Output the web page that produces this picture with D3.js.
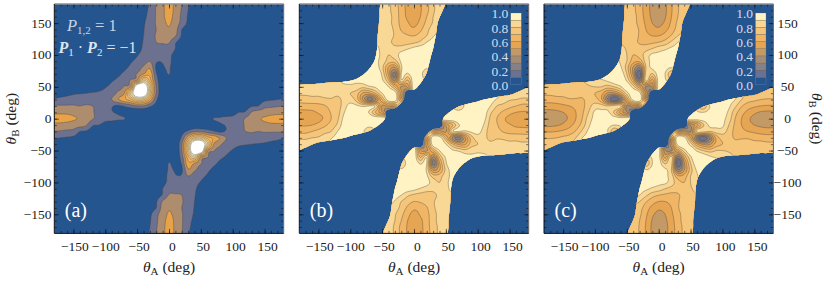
<!DOCTYPE html>
<html>
<head>
<meta charset="utf-8">
<script src="https://cdn.jsdelivr.net/npm/d3@7"></script>
<style>
  body { margin: 0; background: white; }
  text { font-family: "Liberation Serif", serif; }
</style>
</head>
<body>
<div class="canvas"></div>
<script>
// each list holds one wedge of the plane, thetaB >= |thetaA|, in steps of 10 deg.
// row r is thetaB = 10*r, its entries run thetaA = -10*r .. 10*r. values in percent.
// the rest of the plane follows from f(a,b) = f(b,a) = f(-a,-b), as seen in the picture
const rowsA = [
  [1],
  [2,1,1],
  [6,2,1,1,1],
  [37,12,3,1,1,1,1],
  [118,62,19,3,1,1,1,1,1],
  [118,118,66,19,3,2,1,1,1,1,1],
  [21,32,72,46,15,4,6,2,1,1,1,0,0],
  [12,15,21,30,37,11,6,10.5,3,1,0,0,0,0,0],
  [4,8,12,16,22,29,8,9,11,4,1,0,0,0,0,0,0],
  [1,2,4,9,12,15,20,11,10.5,12,5,1,0,0,0,0,0,0,0],
  [0,0,0,1,6,9.5,12,14,14,13,12,7,3,0,0,0,0,0,0,0,0],
  [0,0,0,0,0,4,7.5,11,14,16,16,15,10,4,0,0,0,0,0,0,0,0,0],
  [0,0,0,0,0,0,2,6.5,10.5,14,20,21,21,11,5,1,0,0,0,0,0,0,0,0,0],
  [0,0,0,0,0,0,0,2,6,10,15,21,24,25,21,9,4,1,0,0,0,0,0,0,0,0,0],
  [0,0,0,0,0,0,0,0,1,5,9.5,15,20,26,29,24,10,5,2,0,0,0,0,0,0,0,0,0,0],
  [0,0,0,0,0,0,0,0,0,1,4.5,9,14,21,27,31,25,17,8,3,0,0,0,0,0,0,0,0,0,0,0],
  [0,0,0,0,0,0,0,0,0,0,1,4,8,13,21,28,33,26,18,9,3,0,0,0,0,0,0,0,0,0,0,0,0],
  [0,0,0,0,0,0,0,0,0,0,0,1,3.5,7.5,12,21,28,34,27,19,10,4,0,0,0,0,0,0,0,0,0,0,0,0,0],
  [0,0,0,0,0,0,0,0,0,0,0,0,1,3.5,7,11,21,28,34,27,20,11,5,0,0,0,0,0,0,0,0,0,0,0,0,0,0]
];

const rowsB = [
  [100],
  [100,100,100],
  [100,100,100,100,100],
  [100,55,35,100,100,100,100],
  [100,97,55,30,100,100,100,100,100],
  [100,90,70,48,52,100,100,100,100,100,100],
  [100,92,72,38,88,68,100,97,90,90,100,100,100],
  [100,100,88,58,25,90,88,100,95,80,90,100,100,100,100],
  [100,100,95,83,58,48,88,98,100,98,92,100,100,100,100,100,100],
  [100,100,100,92,87,75,75,92,98,100,100,100,100,100,100,100,100,100,100],
  [100,100,100,100,93,88,80,85,94,98,100,100,100,100,100,100,100,100,100,100,100],
  [95,95,95,95,95,92,88,84,83,85,89,93,96,98,98,100,100,100,100,100,100,100,100],
  [92,92,92,92,92,92,89,88,83,77,75,76,78,82,90,95,97,100,100,100,100,100,100,100,100],
  [90,90,90,90,90,90,90,89,88,84,79,74,71,70,74,80,89,93,95,98,98,98,98,98,98,98,98],
  [90,90,90,90,90,90,90,90,88,87,84,78,69,64,62,68,77,85,90,93,96,96,96,96,96,96,96,96,96],
  [90,90,90,90,90,90,90,90,90,87,86,83,76,67,61,57,63,73,81,87,90,94,94,94,94,94,94,94,94,94,94],
  [90,90,90,90,90,90,90,90,90,90,86,85,83,76,66,58,55,60,70,80,86,89,92,92,92,92,92,92,92,92,92,92,92],
  [90,90,90,90,90,90,90,90,90,90,90,85,85,82,75,66,57,54,59,67,78,85,88,90,90,90,90,90,90,90,90,90,90,90,90],
  [90,90,90,90,90,90,90,90,90,90,90,90,85,85,82,75,65,57,54,59,67,78,85,88,90,90,90,90,90,90,90,90,90,90,90,90,90]
];

const rowsC = [
  [100],
  [100,100,100],
  [100,100,100,100,100],
  [100,50,25,100,100,100,100],
  [100,95,48,25,100,100,100,100,100],
  [100,85,62,38,42,98,100,100,100,100,100],
  [100,88,62,25,85,55,96,92,82,90,100,100,100],
  [100,97,80,48,10,85,78,96,90,72,88,100,100,100,100],
  [100,100,92,75,48,30,80,92,96,94,90,100,100,100,100,100,100],
  [100,100,100,88,80,64,62,85,92,96,97,98,100,100,100,100,100,100,100],
  [95,95,95,95,87,80,70,74,85,92,93,95,96,97,100,100,100,100,100,100,100],
  [90,90,90,90,90,83,79,74,73,76,80,85,88,92,94,97,97,97,97,97,97,97,97],
  [85,85,85,85,85,85,80,78,73,69,67,68,70,74,82,90,94,97,97,97,97,97,97,97,97],
  [82,82,82,82,82,82,82,80,78,74,69,63,60,60,64,71,80,85,90,92,92,92,92,92,92,92,92],
  [80,80,80,80,80,80,80,80,78,77,74,69,60,54,52,57,65,74,80,85,90,90,90,90,90,90,90,90,90],
  [80,80,80,80,80,80,80,80,80,77,76,73,67,58,50,47,52,62,72,78,82,88,88,88,88,88,88,88,88,88,88],
  [80,80,80,80,80,80,80,80,80,80,76,75,73,66,56,48,44,49,60,70,77,80,85,85,85,85,85,85,85,85,85,85,85],
  [80,80,80,80,80,80,80,80,80,80,80,75,75,72,65,55,47,43,48,59,69,76,79,82,82,82,82,82,82,82,82,82,82,82,82],
  [80,80,80,80,80,80,80,80,80,80,80,80,75,75,72,65,55,47,43,48,59,69,76,79,80,80,80,80,80,80,80,80,80,80,80,80,80]
];

// signed distance (deg) to the edge of the coloured region in panels b and c
const rowsSupport = [
  [-25],
  [-18,-22,-20],
  [-4,-12,-20,-20,-17],
  [10,3,-6,-16,-22,-25,-28],
  [26,16,6,-4,-6,-12,-18,-24,-30],
  [30,22,14,6,5,4,-4,-12,-20,-26,-30],
  [30,25,22,18,14,11,10,3,-7,-15,-22,-28,-30],
  [5,12,20,28,28,25,20,14,9,-1,-11,-21,-30,-30,-30],
  [-8,-1,7,16,26,30,30,26,20,12,2,-8,-18,-28,-30,-30,-30],
  [-22,-14,-6,2,11,22,30,30,28,24,14.5,4.5,-5.5,-15.5,-25,-30,-30,-30,-30],
  [-30,-26,-18,-9,-0.5,9,19,29,30,30,27,17,7,-3,-13,-23,-30,-30,-30,-30,-30],
  [-30,-30,-28,-20,-11,-2,8,18,28,30,30,30,20,10,0,-10,-20,-30,-30,-30,-30,-30,-30],
  [-30,-30,-30,-30,-22,-12,-2.5,7,17,27,30,30,30,22,12,2,-8,-18,-28,-30,-30,-30,-30,-30,-30],
  [-30,-30,-30,-30,-30,-23,-13,-3,7,17,27,30,30,30,24,14,4,-6,-16,-26,-30,-30,-30,-30,-30,-30,-30],
  [-30,-30,-30,-30,-30,-30,-24,-14,-4,6,16,26,30,30,30,25,15,5.5,-4.5,-14.5,-24.5,-30,-30,-30,-30,-30,-30,-30,-30],
  [-30,-30,-30,-30,-30,-30,-30,-25,-15,-5,5,15,25,30,30,30,27,17,7,-3,-13,-23,-30,-30,-30,-30,-30,-30,-30,-30,-30],
  [-30,-30,-30,-30,-30,-30,-30,-30,-26,-16,-6,4,14,24,30,30,30,30,20,10,0.5,-9,-19,-29,-30,-30,-30,-30,-30,-30,-30,-30,-30],
  [-30,-30,-30,-30,-30,-30,-30,-30,-30,-26,-16,-6,4,14,24,30,30,30,30,25,15,5,-5,-15,-25,-30,-30,-30,-30,-30,-30,-30,-30,-30,-30],
  [-30,-30,-30,-30,-30,-30,-30,-30,-30,-30,-27,-17,-7,3,13,23,30,30,30,30,29,19,9,-1,-11,-21,-30,-30,-30,-30,-30,-30,-30,-30,-30,-30,-30]
];

// band limits and colours
const levels = [10, 20, 30, 40, 50, 60, 70, 80, 90];
const bandColors = ['#3f6299', '#6b7192', '#868087', '#a28c76', '#c39a66', '#e6a552', '#f0b565', '#f5c67a', '#f9d794', '#fff3c4'];
const panelAColors = ['#24558e', '#6c7190', '#ad8d6d', '#e8a349', '#f0b565', '#f5c67a', '#f9d794', '#fde6ae', '#fff3c8', '#ffffff'];
const blue = '#24558e';

const majorTicks = [-150, -100, -50, 0, 50, 100, 150];
const minorTicks = d3.range(-170, 180, 10);
const barTicks = [0, 0.2, 0.4, 0.6, 0.8, 1];
const xLabelShift = [1.5, 0.5, 2, 3.3, 2.5, 3, 3]; // the labels sit a bit right of their ticks

const dims = { width: 830, height: 281 };
const plotSize = 229.4;
const plotTop = 4;
const panels = [
  { left: 54.3, rows: rowsA, colors: panelAColors, tag: '(a)', yLabels: 'left', clipped: false },
  { left: 299.3, rows: rowsB, colors: bandColors, tag: '(b)', bar: true, clipped: true },
  { left: 544, rows: rowsC, colors: bandColors, tag: '(c)', bar: true, yLabels: 'right', clipped: true }
];

const svg = d3.select('.canvas').append('svg')
  .attr('width', dims.width)
  .attr('height', dims.height);

const n = 37;
const k = 4; // upsampling, so the contours come out round

// fill the whole plane from the wedge
const expand = rows => {
  const grid = [];
  for (let j = 0; j < n; j++) {
    for (let i = 0; i < n; i++) {
      let p = i - 18, q = j - 18;
      if (Math.abs(p) > Math.abs(q)) [p, q] = [q, p];
      if (q < 0) { p = -p; q = -q; }
      grid.push(rows[q][p + q]);
    }
  }
  return grid;
};

const cubic = (a, b, c, d, t) =>
  b + 0.5 * t * (c - a + t * (2 * a - 5 * b + 4 * c - d + t * (3 * (b - c) + d - a)));

const upsample = grid => {
  const m = (n - 1) * k + 1;
  const at = (i, j) => grid[Math.max(0, Math.min(n - 1, j)) * n + Math.max(0, Math.min(n - 1, i))];
  const out = new Float64Array(m * m);
  for (let y = 0; y < m; y++) {
    const j = Math.floor(y / k), v = y / k - j;
    for (let x = 0; x < m; x++) {
      const i = Math.floor(x / k), u = x / k - i;
      const col = [-1, 0, 1, 2].map(d =>
        cubic(at(i - 1, j + d), at(i, j + d), at(i + 1, j + d), at(i + 2, j + d), u));
      out[y * m + x] = cubic(col[0], col[1], col[2], col[3], v);
    }
  }
  return { values: out, m };
};

const angle = d3.scaleLinear().domain([0, (n - 1) * k]).range([-180, 180]);
const supportFine = upsample(expand(rowsSupport));

panels.forEach((p, idx) => {
  const x = d3.scaleLinear().domain([-180, 180]).range([p.left, p.left + plotSize]);
  const y = d3.scaleLinear().domain([-180, 180]).range([plotTop + plotSize, plotTop]);

  const path = d3.geoPath(d3.geoTransform({
    point(px, py) { this.stream.point(x(angle(px - 0.5)), y(angle(py - 0.5))); }
  }));

  const fine = upsample(expand(p.rows));
  const contours = d3.contours().size([fine.m, fine.m]).thresholds(levels)(fine.values);

  svg.append('clipPath').attr('id', `plot${idx}`)
    .append('rect')
    .attr('x', p.left).attr('y', plotTop)
    .attr('width', plotSize).attr('height', plotSize);

  const graph = svg.append('g').attr('clip-path', `url(#plot${idx})`);

  graph.append('rect')
    .attr('x', p.left).attr('y', plotTop)
    .attr('width', plotSize).attr('height', plotSize)
    .attr('fill', blue);

  let inner = graph.append('g');
  if (p.clipped) {
    const edge = d3.contours().size([supportFine.m, supportFine.m]).thresholds([0])(supportFine.values);
    svg.append('clipPath').attr('id', `support${idx}`)
      .append('path').attr('d', path(edge[0]));
    inner = graph.append('g').attr('clip-path', `url(#support${idx})`);
    inner.append('rect')
      .attr('x', p.left).attr('y', plotTop)
      .attr('width', plotSize).attr('height', plotSize)
      .attr('fill', p.colors[0]);
  }

  inner.selectAll('path')
    .data(contours)
    .enter()
    .append('path')
      .attr('d', path)
      .attr('fill', (d, i) => p.colors[i + 1])
      .attr('stroke', '#4a4238')
      .attr('stroke-opacity', 0.75)
      .attr('stroke-width', 0.5);

  // ticks on all four sides, pointing in
  const addTicks = (axis, tx, ty) => {
    [[minorTicks, 2.5], [majorTicks, 4.5]].forEach(([values, size]) => {
      const g = svg.append('g')
        .attr('transform', `translate(${tx}, ${ty})`)
        .call(axis.tickValues(values).tickSize(-size).tickFormat(''));
      g.select('.domain').remove();
      g.selectAll('line').attr('stroke', '#111').attr('stroke-width', 0.6);
    });
  };
  addTicks(d3.axisBottom(x), 0, plotTop + plotSize);
  addTicks(d3.axisTop(x), 0, plotTop);
  addTicks(d3.axisLeft(y), p.left, 0);
  addTicks(d3.axisRight(y), p.left + plotSize, 0);

  // frame: the left and bottom are black, the top and right grey
  svg.append('line').attr('x1', p.left).attr('x2', p.left + plotSize).attr('y1', plotTop).attr('y2', plotTop)
    .attr('stroke', '#8f8f8f').attr('stroke-width', 1.4);
  svg.append('line').attr('x1', p.left + plotSize).attr('x2', p.left + plotSize).attr('y1', plotTop).attr('y2', plotTop + plotSize)
    .attr('stroke', '#666').attr('stroke-width', 1);
  svg.append('line').attr('x1', p.left).attr('x2', p.left).attr('y1', plotTop).attr('y2', plotTop + plotSize)
    .attr('stroke', '#111').attr('stroke-width', 1);
  svg.append('line').attr('x1', p.left).attr('x2', p.left + plotSize).attr('y1', plotTop + plotSize).attr('y2', plotTop + plotSize)
    .attr('stroke', '#111').attr('stroke-width', 1);

  // x tick labels
  svg.selectAll(`.xt${idx}`)
    .data(majorTicks)
    .enter()
    .append('text')
      .attr('class', `xt${idx}`)
      .attr('x', (d, i) => x(d) + xLabelShift[i])
      .attr('y', 251)
      .attr('text-anchor', 'middle')
      .attr('font-size', 13.5)
      .attr('fill', '#222')
      .text(d => d3.format('d')(d));

  // x title
  const xt = svg.append('text')
    .attr('x', x(0))
    .attr('y', 272)
    .attr('text-anchor', 'middle')
    .attr('font-size', 15.5)
    .attr('fill', '#222');
  xt.append('tspan').attr('font-style', 'italic').text('θ');
  xt.append('tspan').attr('font-size', 11).attr('dy', 3).text('A');
  xt.append('tspan').attr('dy', -3).text(' (deg)');

  // y labels only on the outer panels
  if (p.yLabels) {
    const left = p.yLabels === 'left';
    svg.selectAll(`.yt${idx}`)
      .data(majorTicks)
      .enter()
      .append('text')
        .attr('class', `yt${idx}`)
        .attr('x', left ? 51.5 : 787.5)
        .attr('y', d => y(d) + 4.5)
        .attr('text-anchor', left ? 'end' : 'middle')
        .attr('font-size', 13.5)
        .attr('fill', '#222')
        .text(d => d3.format('d')(d));

    const tx = left ? 12 : 816;
    const yt = svg.append('text')
      .attr('transform', `translate(${tx}, ${y(0)}) rotate(${left ? -90 : 90})`)
      .attr('y', 4)
      .attr('text-anchor', 'middle')
      .attr('font-size', 15.5)
      .attr('fill', '#222');
    yt.append('tspan').attr('font-style', 'italic').text('θ');
    yt.append('tspan').attr('font-size', 11).attr('dy', 3).text('B');
    yt.append('tspan').attr('dy', -3).text(' (deg)');
  }

  // panel tag
  svg.append('text')
    .attr('x', p.left + 10.5)
    .attr('y', 217)
    .attr('font-size', 20)
    .attr('fill', 'white')
    .text(p.tag);

  // colour bar inside b and c
  if (p.bar) {
    const barLeft = p.left + 211.5;
    const barY = d3.scaleLinear().domain([0, 100]).range([84.5, 13]);
    const edges = [0].concat(levels);
    svg.selectAll(`.bar${idx}`)
      .data(edges)
      .enter()
      .append('rect')
        .attr('class', `bar${idx}`)
        .attr('x', barLeft)
        .attr('y', d => barY(d + 10))
        .attr('width', 10.5)
        .attr('height', barY(0) - barY(10))
        .attr('fill', (d, i) => i === 0 ? blue : p.colors[i])
        .attr('stroke', (d, i) => i === 0 ? '#8fa8c8' : '#7a6a50')
        .attr('stroke-opacity', 0.6)
        .attr('stroke-width', 0.4);
    svg.selectAll(`.barl${idx}`)
      .data(barTicks)
      .enter()
      .append('text')
        .attr('class', `barl${idx}`)
        .attr('x', barLeft - 2.5)
        .attr('y', d => barY(d * 100) + 5.4)
        .attr('text-anchor', 'end')
        .attr('font-size', 13.5)
        .attr('fill', '#d4dcea')
        .text(d => d3.format('.1f')(d));
  }
});

// the two labels in panel a
const note1 = svg.append('text').attr('x', 67).attr('y', 31).attr('font-size', 16.5).attr('fill', '#c9d3e4');
note1.append('tspan').attr('font-style', 'italic').text('P');
note1.append('tspan').attr('font-size', 11).attr('dy', 3).text('1,2');
note1.append('tspan').attr('dy', -3).text(' = 1');

const note2 = svg.append('text').attr('x', 58.5).attr('y', 53).attr('font-size', 16).attr('fill', '#dfe5ef');
note2.append('tspan').attr('font-style', 'italic').attr('font-weight', 'bold').text('P');
note2.append('tspan').attr('font-size', 11).attr('dy', 3).text('1');
note2.append('tspan').attr('dy', -3).text(' · ');
note2.append('tspan').attr('font-style', 'italic').attr('font-weight', 'bold').text('P');
note2.append('tspan').attr('font-size', 11).attr('dy', 3).text('2');
note2.append('tspan').attr('dy', -3).text(' = −1');
</script>
</body>
</html>
